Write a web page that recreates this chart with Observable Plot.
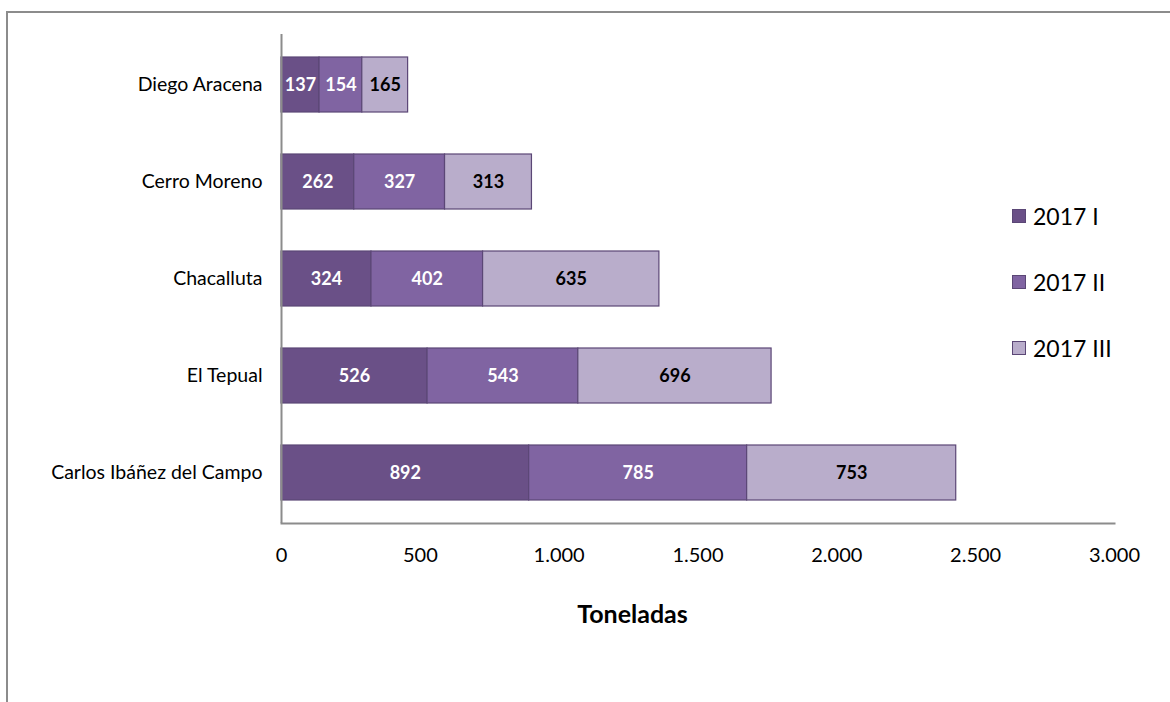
<!DOCTYPE html>
<html>
<head>
<meta charset="utf-8">
<script src="https://cdn.jsdelivr.net/npm/d3@7"></script>
<script src="https://cdn.jsdelivr.net/npm/@observablehq/plot@0.6"></script>
<style>
  html, body { margin: 0; padding: 0; background: #fff; }
  #wrap { position: relative; width: 1170px; height: 702px; overflow: hidden; font-family: Lato, "Open Sans", sans-serif; }
  #border { position: absolute; left: 6px; top: 11px; width: 1200px; height: 800px; border-left: 2px solid #8c8c8c; border-top: 2px solid #8c8c8c; box-sizing: border-box; }
  #chart { position: absolute; left: 0; top: 0; }
  #xlabel { position: absolute; left: 480px; width: 305px; text-align: center; top: 598px; font-weight: bold; font-size: 25px; color: #000; }
  #legend { position: absolute; left: 1012px; top: 200px; font-size: 23px; color: #000; }
  .item { display: flex; align-items: center; height: 32px; margin-bottom: 34px; }
  .sw { width: 14px; height: 14px; margin-right: 7px; box-sizing: border-box; border: 1px solid #5b4776; }
</style>
</head>
<body>
<div id="wrap">
  <div id="border"></div>
  <div id="chart"></div>
  <div id="xlabel">Toneladas</div>
  <div id="legend"></div>
</div>
<script>
const airports = ["Diego Aracena", "Cerro Moreno", "Chacalluta", "El Tepual", "Carlos Ibáñez del Campo"];
const periods = ["2017 I", "2017 II", "2017 III"];
const values2017I = [137, 262, 324, 526, 892];
const values2017II = [154, 327, 402, 543, 785];
const values2017III = [165, 313, 635, 696, 753];
const xTicks = [0, 500, 1000, 1500, 2000, 2500, 3000];
const colors = ["#6a5087", "#8064a2", "#b9adcb"];
const labelColors = ["#ffffff", "#ffffff", "#000000"];

const series = [values2017I, values2017II, values2017III];
const data = [];
periods.forEach((p, i) => {
  airports.forEach((a, j) => data.push({airport: a, period: p, value: series[i][j]}));
});

const fmt = d => d3.format(",")(d).replace(/,/g, ".");

const chart = Plot.plot({
  width: 1170,
  height: 702,
  marginLeft: 281,
  marginRight: 56,
  marginTop: 34,
  marginBottom: 179,
  style: {fontFamily: "Lato, 'Open Sans', sans-serif", background: "transparent"},
  x: {domain: [0, 3000], ticks: xTicks, tickFormat: fmt, label: null},
  y: {domain: airports, paddingInner: 0.43, paddingOuter: 0.215, label: null},
  color: {domain: periods, range: colors},
  marks: [
    Plot.barX(data, Plot.stackX({x: "value", y: "airport", fill: "period", order: periods, stroke: "#5b4776", strokeWidth: 1.2})),
    Plot.text(data, Plot.stackX({x: "value", y: "airport", z: "period", order: periods, text: d => String(d.value),
      fill: d => labelColors[periods.indexOf(d.period)], fontWeight: "bold", fontSize: 18})),
    Plot.ruleX([0], {stroke: "#8c8c8c", strokeWidth: 2}),
    Plot.frame({anchor: "bottom", stroke: "#8c8c8c", strokeWidth: 2}),
    Plot.axisX({ticks: xTicks, tickFormat: fmt, tickSize: 0, tickPadding: 24, fontSize: 20, label: null}),
    Plot.axisY({tickSize: 0, tickPadding: 19, fontSize: 19.5, label: null})
  ]
});
document.getElementById("chart").appendChild(chart);

const legend = document.getElementById("legend");
periods.forEach((p, i) => {
  const it = document.createElement("div");
  it.className = "item";
  const sw = document.createElement("div");
  sw.className = "sw";
  sw.style.background = colors[i];
  const lb = document.createElement("span");
  lb.textContent = p;
  it.appendChild(sw);
  it.appendChild(lb);
  legend.appendChild(it);
});
</script>
</body>
</html>
